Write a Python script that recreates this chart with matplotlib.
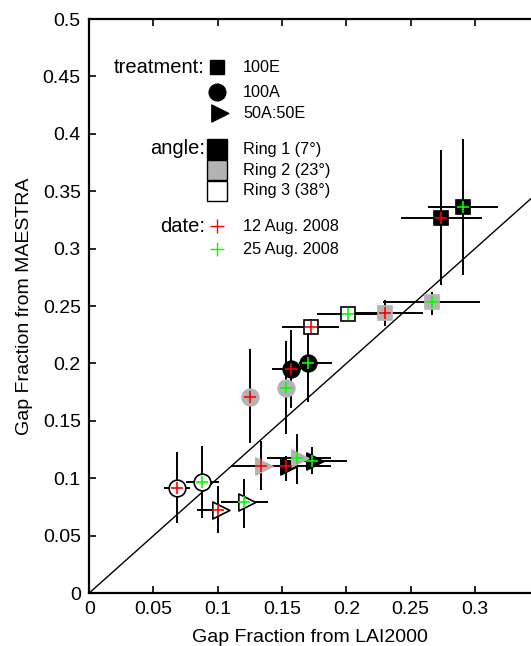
import matplotlib
matplotlib.use('Agg')
import matplotlib.pyplot as plt
from matplotlib.path import Path

plt.rcParams['font.family'] = ['Liberation Sans', 'DejaVu Sans']

# data: 3 treatments x 3 rings x 2 dates
treatment = ['100E'] * 6 + ['100A'] * 6 + ['50A:50E'] * 6
ring = [1, 1, 2, 2, 3, 3] * 3
date = [1, 2] * 9
x_lai = [0.2735, 0.2904, 0.230, 0.2663, 0.1725, 0.2015,
         0.157, 0.1704, 0.125, 0.153, 0.068, 0.088,
         0.1528, 0.173, 0.1336, 0.1619, 0.0999, 0.1206]
y_mae = [0.327, 0.3365, 0.2442, 0.2538, 0.232, 0.243,
         0.1949, 0.2001, 0.171, 0.1783, 0.0917, 0.0964,
         0.1106, 0.115, 0.1106, 0.1173, 0.0723, 0.0795]
x_lo = [0.2435, 0.264, 0.205, 0.2292, 0.151, 0.178,
        0.143, 0.164, 0.123, 0.150, 0.059, 0.0758,
        0.1406, 0.150, 0.1108, 0.1393, 0.0844, 0.103]
x_hi = [0.3044, 0.3169, 0.259, 0.3031, 0.1937, 0.225,
        0.164, 0.1878, 0.127, 0.156, 0.0778, 0.1004,
        0.1873, 0.1997, 0.150, 0.1873, 0.108, 0.138]
y_lo = [0.2692, 0.2779, 0.2334, 0.2428, 0.2265, 0.238,
        0.1618, 0.1675, 0.1318, 0.1394, 0.0621, 0.0659,
        0.0984, 0.1043, 0.0906, 0.0955, 0.0534, 0.0578]
y_hi = [0.3853, 0.3946, 0.2544, 0.261, 0.2378, 0.248,
        0.2282, 0.232, 0.2117, 0.2184, 0.1217, 0.1269,
        0.1187, 0.126, 0.1313, 0.1376, 0.0921, 0.0984]

x_ticks = [0, 0.05, 0.1, 0.15, 0.2, 0.25, 0.3]
y_ticks = [0, 0.05, 0.1, 0.15, 0.2, 0.25, 0.3, 0.35, 0.4, 0.45, 0.5]

# right-pointing triangle centred on its centroid (like MATLAB)
tri = Path([(-1, -1.5), (-1, 1.5), (2, 0), (-1, -1.5)],
           [Path.MOVETO, Path.LINETO, Path.LINETO, Path.CLOSEPOLY])

marker_of = {'100E': 's', '100A': 'o', '50A:50E': tri}
size_of = {'100E': 9.6, '100A': 12, '50A:50E': 16.3}
gray = '#b3b3b3'
face_of = {1: 'black', 2: gray, 3: 'white'}
edge_of = {1: 'black', 2: gray, 3: 'black'}
cross_of = {1: '#ff0000', 2: '#00ff00'}

fig = plt.figure(figsize=(5.31, 6.46), dpi=100)
ax = fig.add_axes([0.168, 0.082, 0.832, 0.8885])

# 1:1 line
ax.plot([0, 0.5], [0, 0.5], color='black', lw=1.0, zorder=1)

for i in range(len(x_lai)):
    ax.plot([x_lo[i], x_hi[i]], [y_mae[i], y_mae[i]], color='black', lw=1.4, zorder=2)
    ax.plot([x_lai[i], x_lai[i]], [y_lo[i], y_hi[i]], color='black', lw=1.4, zorder=2)

for i in range(len(x_lai)):
    t = treatment[i]
    ax.plot(x_lai[i], y_mae[i], marker=marker_of[t], ms=size_of[t], ls='none',
            mfc=face_of[ring[i]], mec=edge_of[ring[i]], mew=1.2, zorder=3)
    ax.plot(x_lai[i], y_mae[i], marker='+', ms=9, mew=1.2, ls='none',
            color=cross_of[date[i]], zorder=4)

ax.set_xlim(0, 0.3436)
ax.set_ylim(0, 0.5)
ax.set_xticks(x_ticks)
ax.set_xticklabels([('%g' % v) for v in x_ticks])
ax.set_yticks(y_ticks)
ax.set_yticklabels([('%g' % v) for v in y_ticks])
ax.tick_params(direction='in', length=5, width=1.2, labelsize=14, top=True, pad=6)
ax.spines['right'].set_visible(False)
for s in ['left', 'bottom', 'top']:
    ax.spines[s].set_linewidth(1.6)
ax.set_xlabel('Gap Fraction from LAI2000', fontsize=14, labelpad=8)
ax.set_ylabel('Gap Fraction from MAESTRA', fontsize=14, labelpad=7)

# hand-made legend
tr = ax.transAxes
hx, mx, lx = 0.262, 0.289, 0.348
ax.text(hx, 0.9164, 'treatment:', transform=tr, ha='right', va='center', fontsize=14.5)
for t, yy in zip(['100E', '100A', '50A:50E'], [0.9164, 0.8728, 0.836]):
    ms = size_of[t] * 1.1 if t == '100E' else size_of[t]
    ax.plot(mx, yy, marker=marker_of[t], ms=ms, color='black', transform=tr, clip_on=False)
    ax.text(lx, yy, t, transform=tr, va='center', fontsize=11.7)

ax.text(hx, 0.775, 'angle:', transform=tr, ha='right', va='center', fontsize=14.5)
ring_labels = ['Ring 1 (7\u00b0)', 'Ring 2 (23\u00b0)', 'Ring 3 (38\u00b0)']
for r, lab, yy in zip([1, 2, 3], ring_labels, [0.7735, 0.737, 0.7005]):
    ax.plot(mx, yy, marker='s', ms=14.5, mfc=face_of[r], mec='black', mew=1.0,
            transform=tr, clip_on=False)
    ax.text(lx, yy, lab, transform=tr, va='center', fontsize=11.7)

ax.text(hx, 0.639, 'date:', transform=tr, ha='right', va='center', fontsize=14.5)
for d, lab, yy in zip([1, 2], ['12 Aug. 2008', '25 Aug. 2008'], [0.639, 0.599]):
    ax.plot(mx, yy, marker='+', ms=10, mew=1.0, color=cross_of[d], transform=tr)
    ax.text(lx, yy, lab, transform=tr, va='center', fontsize=11.7)

fig.savefig('out.png', dpi=100)
